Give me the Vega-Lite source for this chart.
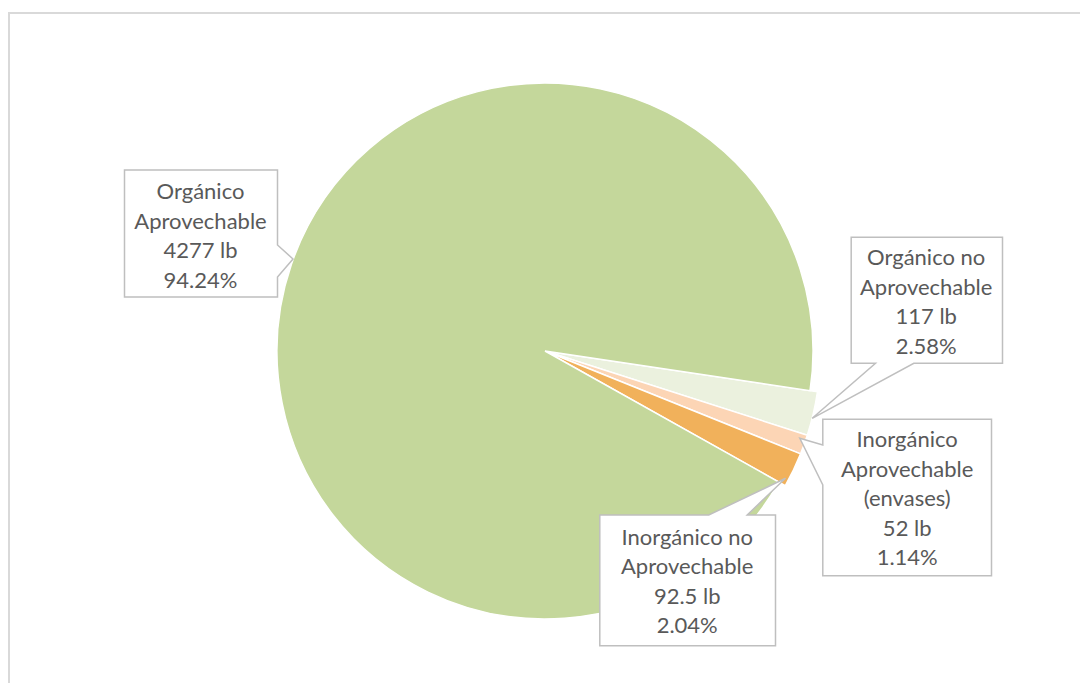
{
  "$schema": "https://vega.github.io/schema/vega-lite/v6.json",
  "width": 1072,
  "height": 676,
  "padding": {"left": 9, "top": 13, "right": 0, "bottom": 0},
  "autosize": {"type": "none"},
  "background": "#ffffff",
  "view": {"stroke": "#d9d9d9", "strokeWidth": 2},
  "data": {
    "values": [
      {"categoria": "Orgánico Aprovechable", "orden": 1, "lb": 4277, "pct": 94.24, "etiqueta": "Orgánico\nAprovechable\n4277 lb\n94.24%"},
      {"categoria": "Orgánico no Aprovechable", "orden": 2, "lb": 117, "pct": 2.58, "etiqueta": "Orgánico no\nAprovechable\n117 lb\n2.58%"},
      {"categoria": "Inorgánico Aprovechable (envases)", "orden": 3, "lb": 52, "pct": 1.14, "etiqueta": "Inorgánico\nAprovechable\n(envases)\n52 lb\n1.14%"},
      {"categoria": "Inorgánico no Aprovechable", "orden": 4, "lb": 92.5, "pct": 2.04, "etiqueta": "Inorgánico no\nAprovechable\n92.5 lb\n2.04%"}
    ]
  },
  "encoding": {
    "theta": {"field": "lb", "type": "quantitative", "stack": true, "scale": {"range": [2.0816, 8.3648]}},
    "order": {"field": "orden", "type": "quantitative"},
    "color": {
      "field": "categoria",
      "type": "nominal",
      "scale": {
        "domain": ["Orgánico Aprovechable", "Orgánico no Aprovechable", "Inorgánico Aprovechable (envases)", "Inorgánico no Aprovechable"],
        "range": ["#c4d79b", "#ebf1de", "#fcd5b5", "#f1b15b"]
      },
      "legend": null
    }
  },
  "layer": [
    {
      "mark": {"type": "arc", "outerRadius": 275.5, "stroke": "#ffffff", "strokeWidth": 1.5},
      "encoding": {
        "opacity": {"condition": {"test": "datum.orden === 1", "value": 0}, "value": 1}
      }
    },
    {
      "mark": {"type": "arc", "outerRadius": 268, "stroke": "#ffffff", "strokeWidth": 1.5},
      "encoding": {
        "opacity": {"condition": {"test": "datum.orden === 1", "value": 1}, "value": 0}
      }
    },
    {
      "mark": {"type": "point", "filled": true, "size": 4, "fill": "#ffffff", "stroke": "#bfbfbf", "strokeWidth": 1.5, "opacity": 1},
      "encoding": {
        "theta": null,
        "color": null,
        "shape": {
          "field": "categoria",
          "type": "nominal",
          "scale": {
            "domain": ["Orgánico Aprovechable", "Orgánico no Aprovechable", "Inorgánico Aprovechable (envases)", "Inorgánico no Aprovechable"],
            "range": [
              "M-420.5,-181L-267.5,-181L-267.5,-106L-252,-92L-267.5,-74L-267.5,-54L-420.5,-54Z",
              "M306.2,-113.7L457.5,-113.7L457.5,12.3L368.8,12.3L267.2,67.3L330.5,12.3L306.2,12.3Z",
              "M277.8,68.3L446.5,68.3L446.5,224.7L277.8,224.7L277.8,134L254.8,87.3L277.8,94Z",
              "M54.8,164L163.8,164L240.5,127.3L202.2,164L230.5,164L230.5,294.7L54.8,294.7Z"
            ]
          },
          "legend": null
        }
      }
    },
    {
      "mark": {
        "type": "text",
        "font": "Lato",
        "fontSize": 22,
        "lineHeight": 29.5,
        "lineBreak": "\n",
        "align": "center",
        "baseline": "middle",
        "fill": "#595959",
        "dx": {"expr": "datum.orden === 1 ? -344.5 : datum.orden === 2 ? 381.2 : datum.orden === 3 ? 362.2 : 142.2"},
        "dy": {"expr": "datum.orden === 1 ? -158.75 : datum.orden === 2 ? -92.75 : datum.orden === 3 ? 89 : 186.75"}
      },
      "encoding": {
        "theta": null,
        "color": null,
        "text": {"field": "etiqueta", "type": "nominal"}
      }
    }
  ]
}
